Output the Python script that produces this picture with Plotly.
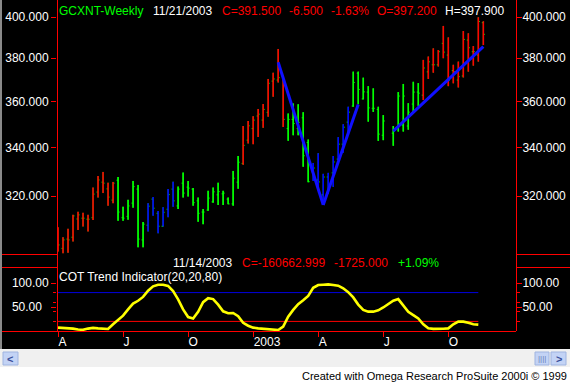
import pandas as pd
import plotly.graph_objects as go

# ---------------- data ----------------
# weekly bars (Fridays) from 2002-04-05 to 2003-11-21; week 2003-07-11 has no bar
all_weeks = pd.date_range("2002-04-05", periods=86, freq="7D")
dates = [d for i, d in enumerate(all_weeks) if i != 66]

open_ = [303.0, 299.8, 303.3, 304.0, 311.0, 311.3, 310.9, 311.5, 321.6, 325.6,
         322.9, 318.4, 326.4, 311.5, 312.0, 317.2, 322.8, 303.0, 308.6, 318.8,
         313.2, 308.2, 314.8, 322.8, 316.1, 325.2, 323.6, 322.8, 318.1, 313.7,
         314.5, 317.7, 320.5, 320.9, 318.8, 316.9, 325.6, 333.3, 343.1, 348.1,
         353.6, 351.8, 355.2, 369.3, 369.8, 371.6, 348.1, 352.1, 348.1, 352.8,
         342.1, 329.8, 326.5, 320.5, 327.7, 329.4, 335.1, 341.4, 350.9, 358.0,
         373.0, 361.2, 364.3, 357.0, 356.5, 345.2,
         346.1, 348.7, 349.6, 349.2, 358.9, 364.3,
         362.9, 373.6, 376.9, 376.9, 387.1, 381.5, 374.2, 369.8, 371.7, 388.7,
         383.1, 381.5, 397.2]
high = [307.8, 304.0, 307.2, 312.6, 313.8, 313.4, 312.6, 323.4, 328.1, 329.8,
        325.4, 325.7, 327.7, 315.8, 318.5, 326.1, 324.5, 309.8, 317.2, 319.6,
        314.1, 315.6, 322.8, 325.8, 323.8, 329.5, 326.1, 323.2, 319.4, 314.9,
        322.1, 323.4, 325.4, 322.1, 319.4, 330.2, 336.4, 349.2, 351.4, 353.5,
        356.7, 358.9, 370.3, 373.2, 384.4, 371.8, 354.7, 359.2, 358.8, 355.3,
        343.4, 333.5, 337.6, 329.0, 329.4, 336.4, 344.4, 350.0, 357.7, 373.7,
        373.7, 370.9, 367.0, 366.0, 357.7, 354.0,
        349.2, 364.3, 368.0, 359.3, 369.0, 368.4,
        379.2, 380.8, 384.7, 383.9, 395.6, 390.0, 376.9, 378.4, 393.1, 392.0,
        385.8, 399.9, 397.9]
low = [298.6, 298.0, 298.2, 302.4, 306.8, 308.1, 306.2, 310.6, 319.4, 321.2,
       316.2, 317.2, 310.3, 310.3, 310.7, 315.4, 300.2, 300.2, 306.2, 312.3,
       305.5, 308.1, 311.7, 315.8, 314.9, 319.4, 319.8, 316.2, 309.9, 309.0,
       314.2, 317.4, 316.5, 316.5, 316.8, 316.2, 322.9, 332.7, 341.7, 341.4,
       344.5, 348.4, 353.3, 362.2, 368.7, 348.8, 342.8, 345.2, 345.2, 331.9,
       325.6, 326.1, 323.3, 316.5, 320.9, 323.7, 334.7, 337.8, 346.1, 357.7,
       358.8, 361.0, 351.1, 355.4, 342.8, 343.1,
       340.7, 346.8, 346.8, 347.6, 355.3, 358.0,
       360.7, 370.3, 373.2, 376.1, 380.0, 367.0, 368.3, 366.4, 371.0, 373.7,
       376.5, 378.4, 386.3]
close = [301.1, 303.0, 303.0, 312.2, 312.6, 311.3, 310.9, 320.8, 326.5, 325.2,
         319.6, 325.2, 313.7, 311.3, 316.1, 323.8, 303.3, 309.0, 316.0, 315.2,
         308.2, 313.6, 320.6, 318.1, 322.8, 321.2, 323.2, 317.4, 313.2, 313.7,
         319.2, 321.7, 321.8, 321.2, 316.9, 327.2, 333.8, 340.9, 349.3, 351.8,
         354.4, 356.5, 368.3, 370.3, 370.9, 352.1, 352.1, 350.3, 350.8, 336.5,
         325.8, 331.4, 325.7, 327.7, 324.1, 333.9, 341.4, 348.7, 355.3, 368.7,
         365.5, 364.4, 357.2, 357.0, 345.7, 351.4,
         347.4, 362.5, 362.5, 355.3, 364.3, 363.8,
         375.4, 378.3, 376.9, 383.1, 382.9, 369.8, 373.7, 371.4, 389.0, 385.0,
         383.1, 397.8, 391.5]
# bar paint state per bar: R = red, G = green, B = blue
bar_state = ("RRRRRRRRRRRR" "GGGGGG" "BBBBBB" "GGGGGGGGGGGGG" "RRRRRRRRR"
             "GGGGG" "BBBBBBBB" "GGGGGGGGGGGGG" "RRRRRRRRRRRRR")

# COT Trend Indicator(20,20,80), last value 11/14/2003
cot = [7.0, 6.5, 6.0, 5.0, 3.0, 2.5, 5.0, 6.5, 5.5, 5.0,
       4.3, 14.0, 24.0, 32.0, 45.0, 57.0, 63.0, 71.0, 84.0, 93.0,
       96.5, 96.3, 94.0, 83.0, 66.0, 45.0, 29.0, 26.0, 40.0, 60.0,
       68.5, 66.5, 55.0, 41.0, 37.0, 37.5, 31.0, 17.0, 11.0, 7.0,
       5.5, 4.3, 3.2, 2.1, 2.1, 9.0, 30.0, 44.0, 56.0, 64.0,
       73.0, 90.0, 95.7, 96.5, 97.2, 96.0, 94.5, 89.0, 81.0, 70.0,
       55.0, 44.0, 40.3, 40.3, 43.0, 49.0,
       63.0, 66.5, 54.0, 40.0, 33.0, 26.0,
       14.0, 5.5, 4.5, 4.2, 4.8, 5.5, 14.0, 19.5, 19.5, 17.0,
       14.0, 13.2]
cot_dates = dates[:len(cot)]
cot_upper = 80
cot_lower = 20

# trend lines
trend_lines = [
    (["2003-02-07", "2003-04-11"], [378.1, 316.5]),
    (["2003-04-11", "2003-05-30"], [316.5, 358.7]),
    (["2003-07-18", "2003-11-21"], [347.0, 385.5]),
]

price_ticks = [320, 340, 360, 380, 400]
price_ticktext = ["320.000", "340.000", "360.000", "380.000", "400.000"]
cot_ticks = [50, 100]
x_tickvals = ["2002-04-05", "2002-07-05", "2002-10-04", "2003-01-03",
              "2003-04-04", "2003-07-04", "2003-10-03"]
x_ticktext = ["A", "J", "O", "2003", "A", "J", "O"]

# ---------------- figure ----------------
W, H = 570, 382
RED = "#ff0000"
GRN = "#00ff00"
BLU = "#0000ff"
FONT = "Liberation Sans, Arial, sans-serif"


def px(x):
    return x / W


def py(y):
    return 1 - y / H


fig = go.Figure()

# OHLC ticks (green open/close ticks)
fig.add_trace(go.Ohlc(
    x=dates, open=open_, high=high, low=low, close=close,
    increasing=dict(line=dict(color=GRN, width=1)),
    decreasing=dict(line=dict(color=GRN, width=1)),
    tickwidth=0.3, xaxis="x", yaxis="y", hoverinfo="skip", showlegend=False))

# coloured bar bodies
for code, col in (("R", RED), ("G", GRN), ("B", BLU)):
    xs, ys = [], []
    for d, lo, hi, s in zip(dates, low, high, bar_state):
        if s == code:
            xs += [d, d, None]
            ys += [lo, hi, None]
    fig.add_trace(go.Scatter(x=xs, y=ys, mode="lines",
                             line=dict(color=col, width=1.6),
                             xaxis="x", yaxis="y", hoverinfo="skip",
                             showlegend=False))

for tx, ty in trend_lines:
    fig.add_trace(go.Scatter(x=tx, y=ty, mode="lines",
                             line=dict(color="#1010ff", width=3),
                             xaxis="x", yaxis="y", hoverinfo="skip",
                             showlegend=False))

# invisible trace for the right-hand price axis
fig.add_trace(go.Scatter(x=[dates[0]], y=[close[0]], mode="markers",
                         marker=dict(opacity=0), xaxis="x", yaxis="y3",
                         hoverinfo="skip", showlegend=False))

# indicator panel
fig.add_trace(go.Scatter(x=cot_dates, y=[cot_upper] * len(cot_dates),
                         mode="lines", line=dict(color="#0000e0", width=1),
                         xaxis="x2", yaxis="y2", hoverinfo="skip",
                         showlegend=False))
fig.add_trace(go.Scatter(x=cot_dates, y=[cot_lower] * len(cot_dates),
                         mode="lines", line=dict(color=RED, width=1),
                         xaxis="x2", yaxis="y2", hoverinfo="skip",
                         showlegend=False))
fig.add_trace(go.Scatter(x=cot_dates, y=cot, mode="lines",
                         line=dict(color="#ffff00", width=2.6),
                         xaxis="x2", yaxis="y2", hoverinfo="skip",
                         showlegend=False))
fig.add_trace(go.Scatter(x=[cot_dates[0]], y=[cot[0]], mode="markers",
                         marker=dict(opacity=0), xaxis="x2", yaxis="y4",
                         hoverinfo="skip", showlegend=False))

xrange_ = ["2002-04-03 14:00", "2004-01-05 17:00"]
xdom = [px(57), px(516)]
price_dom = [py(254), 1.0]
cot_dom = [py(331), py(254)]
price_range = [2.4738, 2.6113]
cot_range = [0, 160.4]

tickfont = dict(family=FONT, size=12, color="white")

common_y = dict(showgrid=False, zeroline=False, showline=False,
                ticks="outside", ticklen=5, tickcolor=RED, tickwidth=1,
                tickfont=tickfont, fixedrange=True)

fig.update_layout(
    width=W, height=H,
    margin=dict(l=0, r=0, t=0, b=0),
    paper_bgcolor="white",
    plot_bgcolor="black",
    showlegend=False,
    font=dict(family=FONT, size=12, color="white"),
    xaxis=dict(domain=xdom, anchor="y", type="date", range=xrange_,
               showgrid=False, zeroline=False, showline=False,
               showticklabels=False, ticks="",
               rangeslider=dict(visible=False), fixedrange=True),
    xaxis2=dict(domain=xdom, anchor="y2", type="date", range=xrange_,
                matches="x", showgrid=False, zeroline=False, showline=False,
                tickmode="array", tickvals=x_tickvals, ticktext=x_ticktext,
                ticks="outside", ticklen=5, tickcolor=RED,
                ticklabelposition="outside right", tickfont=tickfont,
                fixedrange=True),
    yaxis=dict(domain=price_dom, anchor="x", type="log", range=price_range,
               tickmode="array", tickvals=price_ticks,
               ticktext=price_ticktext, side="left", **common_y),
    yaxis3=dict(overlaying="y", anchor="x", type="log", range=price_range,
                tickmode="array", tickvals=price_ticks,
                ticktext=price_ticktext, side="right", ticklabelstandoff=-2,
                **common_y),
    yaxis2=dict(domain=cot_dom, anchor="x2", range=cot_range,
                tickmode="array", tickvals=cot_ticks,
                ticktext=["50.00\u00a0\u00a0", "100.00"], side="left",
                minor=dict(tickvals=[20, 40, 60, 80], ticks="outside",
                           ticklen=3, tickcolor=RED),
                **common_y),
    yaxis4=dict(overlaying="y2", anchor="x2", range=cot_range,
                tickmode="array", tickvals=cot_ticks,
                ticktext=["50.00", "100.00"], side="right",
                ticklabelstandoff=-2,
                minor=dict(tickvals=[20, 40, 60, 80], ticks="outside",
                           ticklen=3, tickcolor=RED),
                **common_y),
)

shapes = []
# chart background (black) and scrollbar strip
shapes.append(dict(type="rect", xref="paper", yref="paper", x0=0, x1=1,
                   y0=py(349), y1=1, fillcolor="black", line=dict(width=0),
                   layer="below"))
shapes.append(dict(type="rect", xref="paper", yref="paper", x0=0, x1=1,
                   y0=py(367), y1=py(349), fillcolor="#f0f0f0",
                   line=dict(width=0), layer="below"))
shapes.append(dict(type="rect", xref="paper", yref="paper", x0=0, x1=px(2),
                   y0=py(349), y1=1, fillcolor="#8a8a8a",
                   line=dict(width=0), layer="above"))


def hline(y, x0, x1, color=RED):
    shapes.append(dict(type="line", xref="paper", yref="paper",
                       x0=px(x0), x1=px(x1), y0=py(y + 0.5), y1=py(y + 0.5),
                       line=dict(color=color, width=1), layer="above"))


def vline(x, y0, y1, color=RED):
    shapes.append(dict(type="line", xref="paper", yref="paper",
                       x0=px(x + 0.5), x1=px(x + 0.5), y0=py(y0), y1=py(y1),
                       line=dict(color=color, width=1), layer="above"))


vline(57, 0, 331)
vline(516, 0, 331)
hline(331, 2, 516)
for yy in (254, 267):
    hline(yy, 2, 57)
    hline(yy, 516, 570)

# scrollbar buttons
for x0, x1 in ((3, 18), (535, 549), (551, 566)):
    shapes.append(dict(type="rect", xref="paper", yref="paper",
                       x0=px(x0), x1=px(x1), y0=py(365), y1=py(352),
                       fillcolor="#c3d3f5", line=dict(color="#9fb4e0", width=1),
                       layer="above"))

fig.update_layout(shapes=shapes)

ann = []


def text(t, x, y, color, size=12, anchor="left", bold=False):
    ann.append(dict(text=("<b>%s</b>" % t) if bold else t, xref="paper",
                    yref="paper", x=px(x), y=py(y), xanchor=anchor,
                    yanchor="middle", showarrow=False,
                    font=dict(family=FONT, size=size, color=color),
                    borderpad=0))


text("GCXNT-Weekly", 58, 11.5, GRN)
text("11/21/2003", 151.5, 11.5, "white")
text("C=391.500", 220.5, 11.5, RED)
text("-6.500", 288, 11.5, RED)
text("-1.63%", 329.5, 11.5, RED)
text("O=397.200", 375.5, 11.5, RED)
text("H=397.900", 444, 11.5, "white")
text("11/14/2003", 171.5, 262.5, "white")
text("C=-160662.999", 240.5, 262.5, RED)
text("-1725.000", 332.5, 262.5, RED)
text("+1.09%", 396.5, 262.5, GRN)
text("COT Trend Indicator(20,20,80)", 57.5, 276.5, "white")
text("Created with Omega Research ProSuite 2000i \u00a9 1999", 568, 376,
     "black", size=11, anchor="right")
text("&lt;", 10.5, 358.5, "#3a4f9a", size=11, anchor="center", bold=True)
text("&gt;", 558.5, 358.5, "#3a4f9a", size=11, anchor="center", bold=True)
text("||||", 542, 358.5, "#6a7fba", size=8, anchor="center")

fig.update_layout(annotations=ann)

fig.write_html(
    "out.html",
    config={"displayModeBar": False, "staticPlot": True},
    post_script="document.body.style.margin='0';"
                "document.body.style.overflow='hidden';"
                "document.documentElement.style.overflow='hidden';")
